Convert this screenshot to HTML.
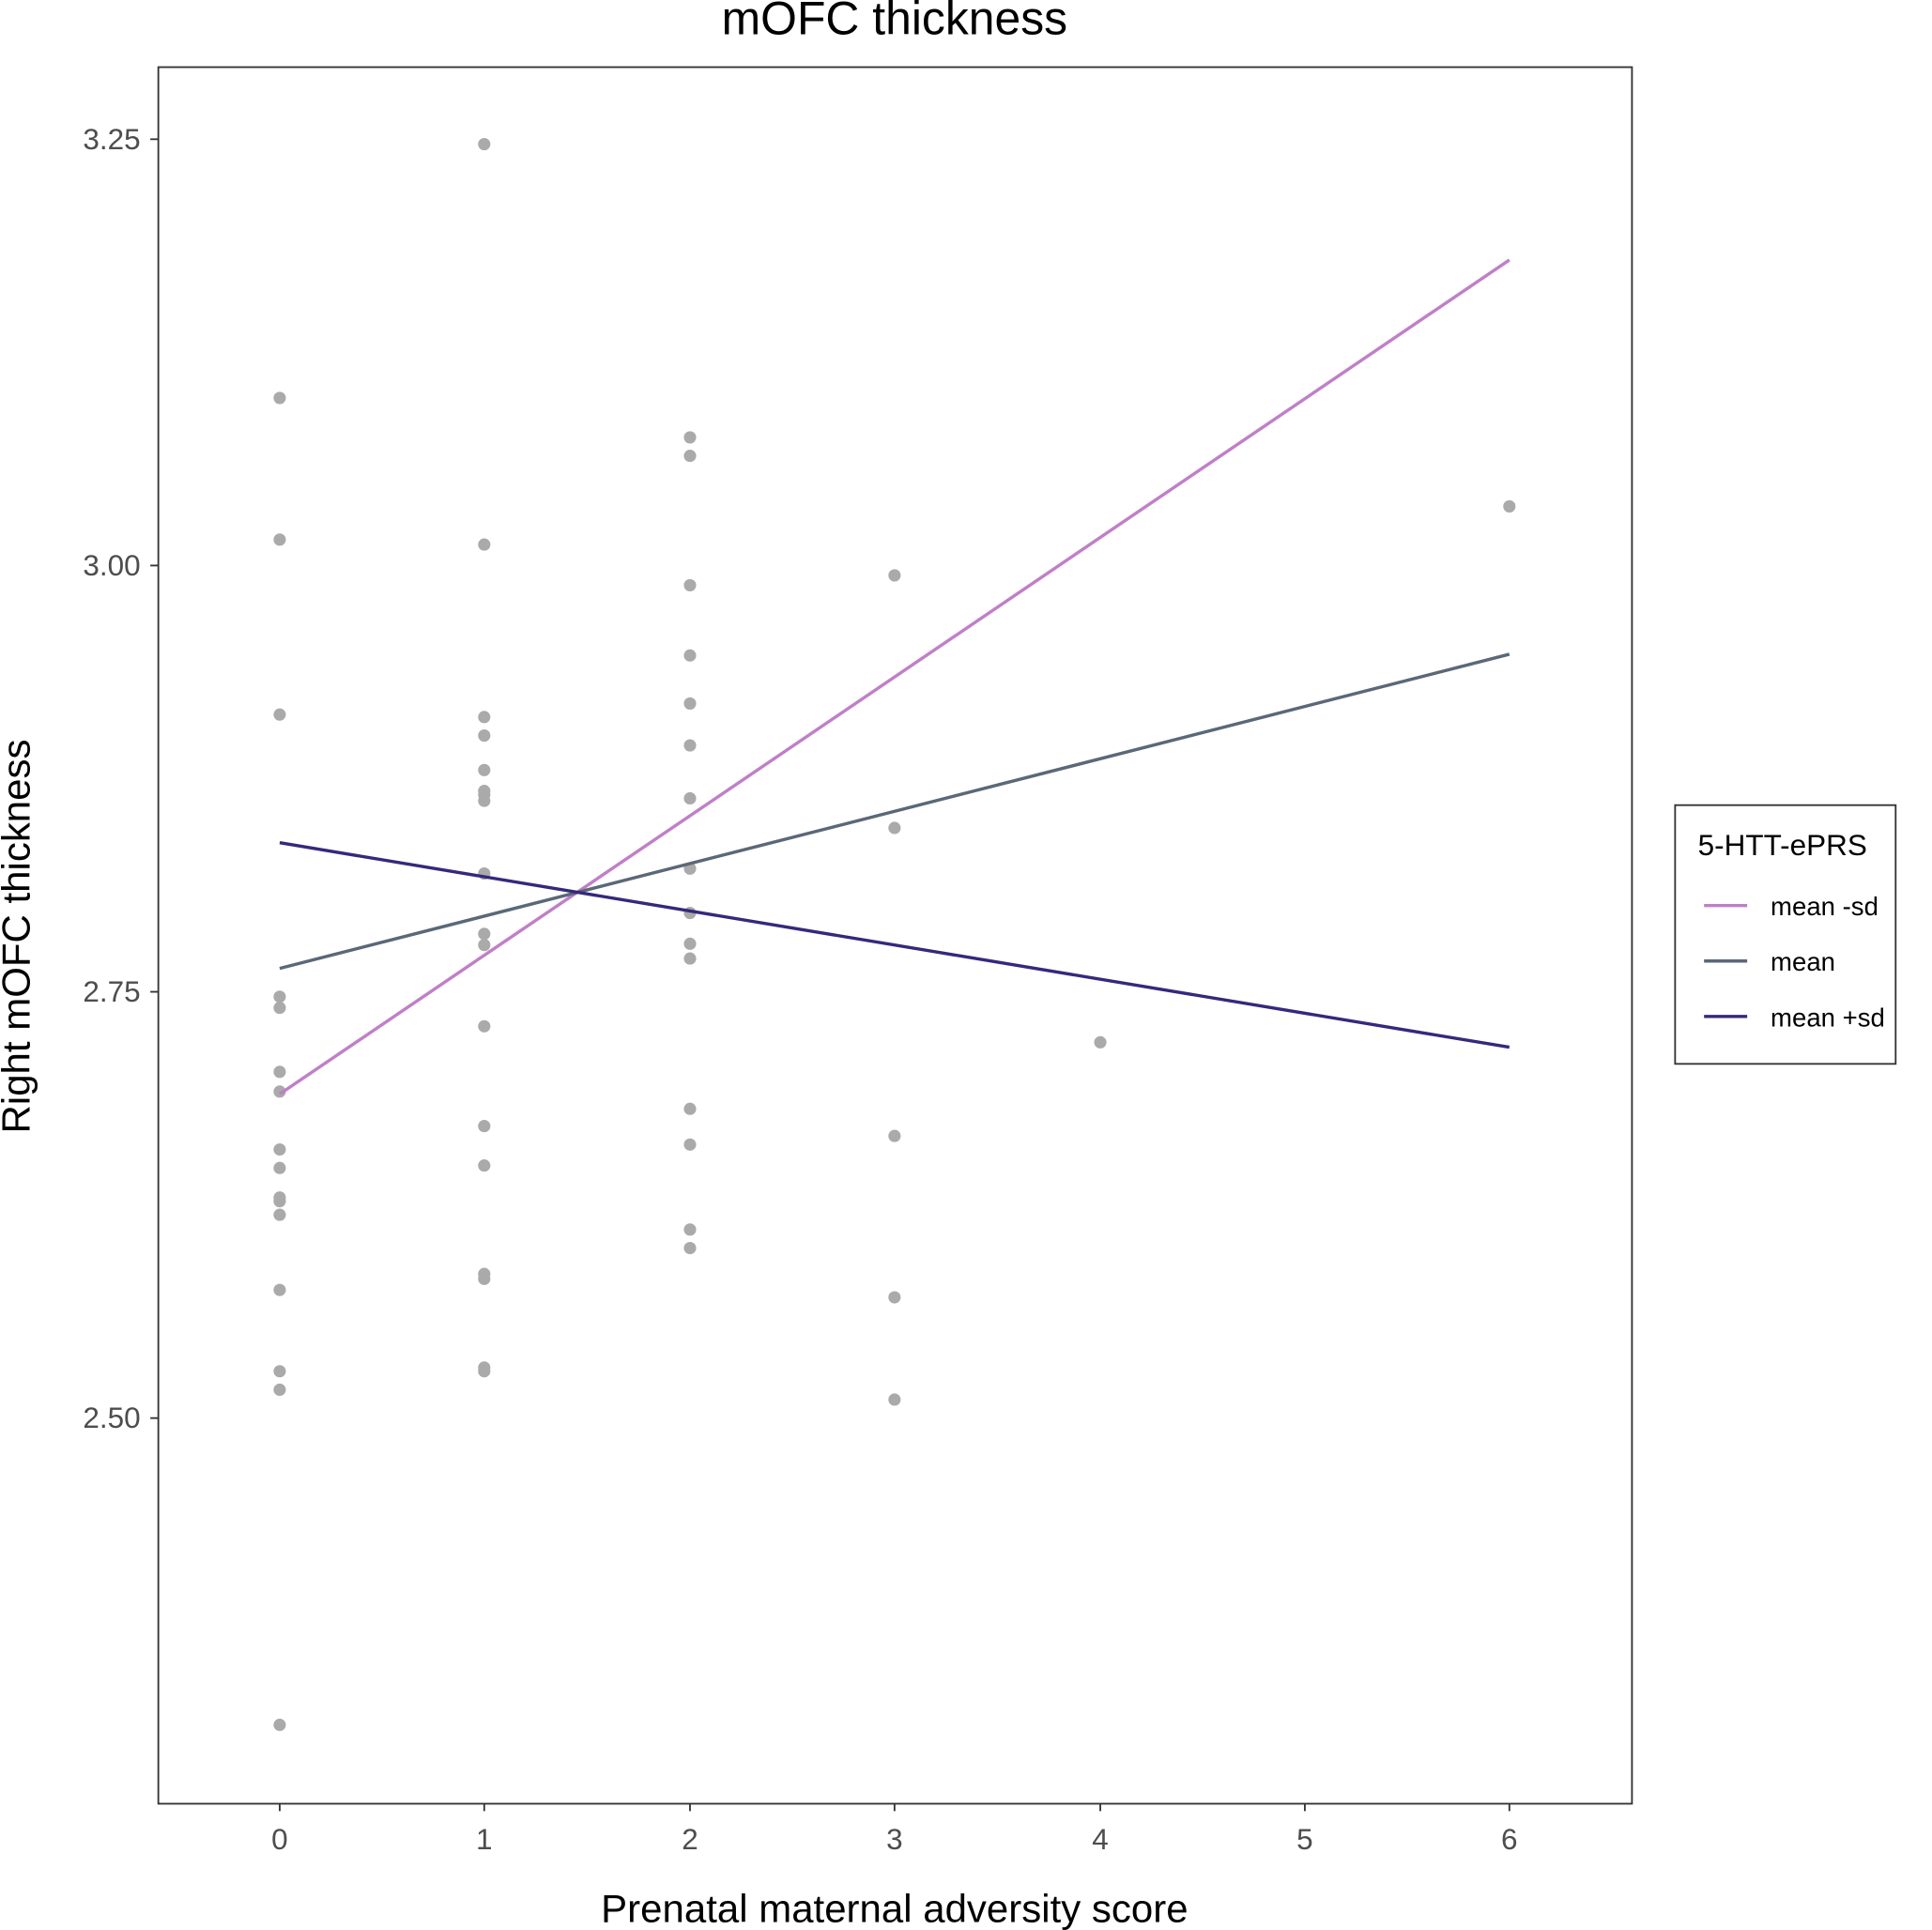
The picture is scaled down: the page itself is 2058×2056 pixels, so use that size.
<!DOCTYPE html>
<html><head><meta charset="utf-8"><style>html,body{margin:0;padding:0;background:#fff}svg{display:block}</style></head>
<body>
<svg width="2058" height="2056" viewBox="0 0 1568 1566.5" preserveAspectRatio="none" xmlns="http://www.w3.org/2000/svg" font-family="Liberation Sans, Arial, sans-serif">
<rect width="1568" height="1567" fill="#fff"/>
<text x="726" y="28" font-size="38" text-anchor="middle" fill="#000">mOFC thickness</text>
<g fill="#aaaaaa">
<g transform="translate(227,0)">
<circle cy="323" r="5"/><circle cy="438" r="5"/><circle cy="580" r="5"/><circle cy="809" r="5"/><circle cy="818" r="5"/><circle cy="870" r="5"/><circle cy="886" r="5"/><circle cy="933" r="5"/><circle cy="948" r="5"/><circle cy="972" r="5"/><circle cy="975" r="5"/><circle cy="986" r="5"/><circle cy="1047" r="5"/><circle cy="1113" r="5"/><circle cy="1128" r="5"/><circle cy="1400" r="5"/>
</g>
<g transform="translate(393,0)">
<circle cy="117" r="5"/><circle cy="442" r="5"/><circle cy="582" r="5"/><circle cy="597" r="5"/><circle cy="625" r="5"/><circle cy="642" r="5"/><circle cy="645" r="5"/><circle cy="650" r="5"/><circle cy="709" r="5"/><circle cy="758" r="5"/><circle cy="767" r="5"/><circle cy="833" r="5"/><circle cy="914" r="5"/><circle cy="946" r="5"/><circle cy="1034" r="5"/><circle cy="1038" r="5"/><circle cy="1110" r="5"/><circle cy="1113" r="5"/>
</g>
<g transform="translate(560,0)">
<circle cy="355" r="5"/><circle cy="370" r="5"/><circle cy="475" r="5"/><circle cy="532" r="5"/><circle cy="571" r="5"/><circle cy="605" r="5"/><circle cy="648" r="5"/><circle cy="705" r="5"/><circle cy="741" r="5"/><circle cy="766" r="5"/><circle cy="778" r="5"/><circle cy="900" r="5"/><circle cy="929" r="5"/><circle cy="998" r="5"/><circle cy="1013" r="5"/>
</g>
<g transform="translate(726,0)">
<circle cy="467" r="5"/><circle cy="672" r="5"/><circle cy="922" r="5"/><circle cy="1053" r="5"/><circle cy="1136" r="5"/>
</g>
<circle cx="893" cy="846" r="5"/><circle cx="1225" cy="411" r="5"/>
</g>
<line x1="227" y1="888" x2="1225" y2="211" stroke="#c07fc8" stroke-width="2.6"/>
<line x1="227" y1="786" x2="1225" y2="531" stroke="#5a6878" stroke-width="2.6"/>
<line x1="227" y1="684" x2="1225" y2="850" stroke="#35297a" stroke-width="2.6"/>
<rect x="128.5" y="54.5" width="1196" height="1409.5" fill="none" stroke="#333" stroke-width="1.4"/>
<g stroke="#333" stroke-width="1.4">
<line x1="122" y1="113" x2="128" y2="113"/><line x1="122" y1="459" x2="128" y2="459"/><line x1="122" y1="805" x2="128" y2="805"/><line x1="122" y1="1151" x2="128" y2="1151"/>
<line x1="227" y1="1464" x2="227" y2="1470"/><line x1="393" y1="1464" x2="393" y2="1470"/><line x1="560" y1="1464" x2="560" y2="1470"/><line x1="726" y1="1464" x2="726" y2="1470"/><line x1="893" y1="1464" x2="893" y2="1470"/><line x1="1059" y1="1464" x2="1059" y2="1470"/><line x1="1225" y1="1464" x2="1225" y2="1470"/>
</g>
<g font-size="24" fill="#4d4d4d" text-anchor="end">
<text x="114" y="121">3.25</text><text x="114" y="467">3.00</text><text x="114" y="813">2.75</text><text x="114" y="1159">2.50</text>
</g>
<g font-size="24" fill="#4d4d4d" text-anchor="middle">
<text x="227" y="1501">0</text><text x="393" y="1501">1</text><text x="560" y="1501">2</text><text x="726" y="1501">3</text><text x="893" y="1501">4</text><text x="1059" y="1501">5</text><text x="1225" y="1501">6</text>
</g>
<text x="726" y="1560" font-size="32" text-anchor="middle" fill="#000">Prenatal maternal adversity score</text>
<text transform="translate(24,760) rotate(-90)" font-size="32" text-anchor="middle" fill="#000">Right mOFC thickness</text>
<rect x="1359.5" y="653.5" width="179" height="210" fill="#fff" stroke="#333" stroke-width="1.4"/>
<text x="1378" y="694" font-size="24" fill="#000">5-HTT-ePRS</text>
<line x1="1383" y1="735" x2="1418" y2="735" stroke="#c07fc8" stroke-width="2.6"/>
<line x1="1383" y1="780" x2="1418" y2="780" stroke="#5a6878" stroke-width="2.6"/>
<line x1="1383" y1="825" x2="1418" y2="825" stroke="#35297a" stroke-width="2.6"/>
<g font-size="21" fill="#000"><text x="1437" y="743">mean -sd</text><text x="1437" y="788">mean</text><text x="1437" y="833">mean +sd</text></g>
</svg>
</body></html>
